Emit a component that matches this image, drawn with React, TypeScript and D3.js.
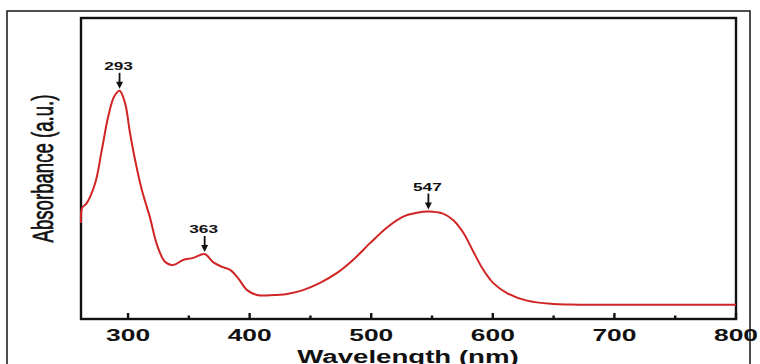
import * as d3 from "d3";
import {useEffect, useRef} from "react";

// UV-Vis spectrum
const wavelengths = [261.3, 262.2, 266, 273, 278.4, 283.6, 288.5, 293, 297.5, 301.6, 305.8, 311.3, 318.1, 323.6, 330.4, 337, 345.2, 353.5, 363, 369.9, 377.3, 383.9, 390.5, 397.9, 406.1, 414, 422.5, 430.8, 443.9, 457.9, 471.9, 485, 499, 513, 526.2, 537.7, 547, 559, 567.3, 575.5, 583.7, 591.9, 600.2, 611.7, 628.1, 649.5, 663.5, 700, 750, 800];
const absorbance = [0.319, 0.369, 0.385, 0.452, 0.561, 0.671, 0.738, 0.758, 0.718, 0.618, 0.528, 0.429, 0.336, 0.249, 0.190, 0.179, 0.196, 0.203, 0.216, 0.189, 0.173, 0.163, 0.136, 0.096, 0.080, 0.078, 0.080, 0.083, 0.096, 0.120, 0.153, 0.196, 0.252, 0.304, 0.340, 0.353, 0.357, 0.350, 0.329, 0.288, 0.226, 0.165, 0.120, 0.086, 0.061, 0.050, 0.048, 0.047, 0.047, 0.047];

const peakLabels = [293, 363, 547];
const majorTicks = [300, 400, 500, 600, 700, 800];
const minorTicks = [350, 450, 550, 650, 750];

const FONT = "'Liberation Sans', Arial, sans-serif";
const STRETCH = 1.57; // the picture is squeezed wide

const App = () => {
    const svgRef = useRef(null);

    useEffect(() => {
        if (!svgRef.current) return;
        d3.select(svgRef.current).selectAll("*").remove();

        const width = 760, height = 364;
        const plot = {left: 81, right: 736, top: 18, bottom: 319};

        const xScale = d3.scaleLinear().domain([261.3, 800]).range([plot.left, plot.right]);
        const yScale = d3.scaleLinear().domain([0, 1]).range([plot.bottom, plot.top]);

        const svg = d3.select(svgRef.current)
            .attr("width", width)
            .attr("height", height);

        svg.append("rect").attr("width", width).attr("height", height).attr("fill", "#fff");

        // outer frame
        svg.append("rect")
            .attr("x", 7).attr("y", 11)
            .attr("width", 743).attr("height", 400)
            .attr("fill", "none").attr("stroke", "#222").attr("stroke-width", 1.6);

        // plot box
        svg.append("rect")
            .attr("x", plot.left).attr("y", plot.top)
            .attr("width", plot.right - plot.left).attr("height", plot.bottom - plot.top)
            .attr("fill", "none").attr("stroke", "#111").attr("stroke-width", 2.4);

        // ticks pointing inwards
        svg.append("g").selectAll("line.major").data(majorTicks).enter().append("line")
            .attr("x1", d => xScale(d)).attr("x2", d => xScale(d))
            .attr("y1", plot.bottom).attr("y2", plot.bottom - 6)
            .attr("stroke", "#111").attr("stroke-width", 2.4);
        svg.append("g").selectAll("line.minor").data(minorTicks).enter().append("line")
            .attr("x1", d => xScale(d)).attr("x2", d => xScale(d))
            .attr("y1", plot.bottom).attr("y2", plot.bottom - 3.5)
            .attr("stroke", "#111").attr("stroke-width", 2.4);

        // tick labels
        svg.append("g").selectAll("text").data(majorTicks).enter().append("text")
            .attr("transform", d => `translate(${xScale(d)},341) scale(${STRETCH},1)`)
            .attr("text-anchor", "middle")
            .attr("font-family", FONT).attr("font-weight", "bold").attr("font-size", 16.8)
            .attr("fill", "#111")
            .text(d => d);

        // axis titles
        svg.append("text")
            .attr("transform", `translate(408,362.5) scale(${STRETCH},1)`)
            .attr("text-anchor", "middle")
            .attr("font-family", FONT).attr("font-weight", "bold").attr("font-size", 17.6)
            .attr("fill", "#111")
            .text("Wavelength (nm)");

        svg.append("text")
            .attr("transform", `translate(53,168.5) scale(${STRETCH},1) rotate(-90)`)
            .attr("text-anchor", "middle")
            .attr("font-family", FONT).attr("font-size", 18.5)
            .attr("textLength", 148).attr("lengthAdjust", "spacingAndGlyphs")
            .attr("fill", "#111")
            .attr("stroke", "#111").attr("stroke-width", 0.45)
            .text("Absorbance (a.u.)");

        // spectrum
        const points = wavelengths.map((w, i) => ({x: w, y: absorbance[i]}));
        const line = d3.line<{x: number; y: number}>()
            .x(d => xScale(d.x))
            .y(d => yScale(d.y))
            .curve(d3.curveCatmullRom.alpha(0.5));

        svg.append("path")
            .datum(points)
            .attr("fill", "none")
            .attr("stroke", "#d12424")
            .attr("stroke-width", 2)
            .attr("d", line);

        // peak annotations
        const ann = svg.append("g");
        peakLabels.forEach(p => {
            const i = wavelengths.indexOf(p);
            const px = xScale(p), py = yScale(absorbance[i]);
            ann.append("text")
                .attr("transform", `translate(${px - 1},${py - 21}) scale(${STRETCH},1)`)
                .attr("text-anchor", "middle")
                .attr("font-family", FONT).attr("font-weight", "bold").attr("font-size", 11)
                .attr("fill", "#111")
                .text(p);
            ann.append("line")
                .attr("x1", px).attr("x2", px)
                .attr("y1", py - 18).attr("y2", py - 7)
                .attr("stroke", "#111").attr("stroke-width", 1.8);
            ann.append("path")
                .attr("d", `M${px - 3.5},${py - 9} L${px + 3.5},${py - 9} L${px},${py - 2} Z`)
                .attr("fill", "#111");
        });
    }, []);

    return <svg ref={svgRef} style={{position: "absolute", left: 0, top: 0}}></svg>;
};

export default App;
